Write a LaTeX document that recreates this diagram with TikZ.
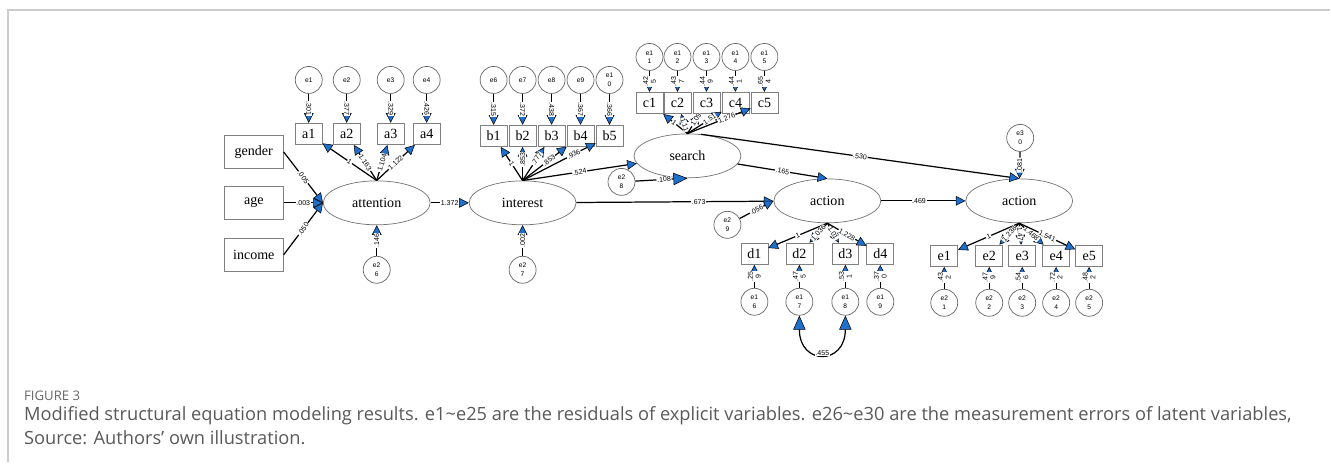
\documentclass[tikz,border=0pt]{standalone}
\usepackage{fontspec}
\setmainfont{Liberation Serif}
\setsansfont{Liberation Sans}
\newfontfamily\captionfont{Open Sans}
\usetikzlibrary{positioning,shapes.geometric,arrows.meta}
\definecolor{tipblue}{RGB}{30,112,204}

\begin{document}
\begin{tikzpicture}[
    x=0.02cm, y=-0.02cm,
    obs/.style={rectangle, draw=black!50, fill=white, minimum width=0.54cm, minimum height=0.43cm, inner sep=0pt, font=\fontsize{8}{9}\selectfont},
    demo/.style={obs, minimum width=1.18cm, minimum height=0.66cm},
    latent/.style={ellipse, draw=black!55, fill=white, minimum width=2.14cm, minimum height=0.88cm, inner sep=0pt, font=\fontsize{8}{9}\selectfont},
    err/.style={circle, draw=black!60, fill=white, minimum size=0.54cm, inner sep=0pt, align=center, font=\sffamily\fontsize{3.8}{4.8}\selectfont},
    reg/.style={-{Triangle[length=5.5pt, width=5.5pt, fill=tipblue, line width=0.3pt]}, line width=0.7pt},
    bigreg/.style={-{Triangle[length=8pt, width=7pt, fill=tipblue, line width=0.3pt]}, line width=0.7pt},
    lbl/.style={font=\sffamily\fontsize{4}{4.4}\selectfont, fill=white, inner sep=0.4pt, align=center},
    coef/.style={lbl, sloped},
  ]

    % Frame
    \draw[black!20, line width=1.2pt] (8,462) -- (8,10) -- (1331,10);

    % Background variables
    \node[demo] (gender) at (254,152) {gender};
    \node[demo] (age) at (254,203) {age};
    \node[demo] (income) at (254,255) {income};

    % Latent variables and their disturbances
    \node[latent] (attention) at (377,203) {attention};
    \node[latent] (interest) at (523,203) {interest};
    \node[latent] (search) at (688,156) {search};
    \node[latent] (action) at (828,201) {action};
    \node[latent] (actionb) at (1020,201) {action};

    \node[err] (err26) at (377,270) {e2\\6};
    \node[err] (err27) at (523,270) {e2\\7};
    \node[err] (err28) at (622,182) {e2\\8};
    \node[err] (err29) at (728,225) {e2\\9};
    \node[err] (err30) at (1021,138) {e3\\0};

    % Indicators of attention
    \foreach \i/\x/\lam/\var in {1/309/1/.301, 2/347/1.163/.377, 3/391/1.104/.329, 4/427/1.122/.426} {
      \node[obs] (a\i) at (\x,134) {a\i};
      \node[err] (err\i) at (\x,80) {e\i};
      \draw[reg] (attention.north) -- node[coef] {\lam} (a\i);
      \draw[reg] (err\i) -- node[coef] {\var} (a\i);
    }

    % Indicators of interest
    \foreach \i/\x/\k/\txt/\lam/\var/\p in {1/494/6/e6/1/.315/.5, 2/523/7/e7/.853/.372/.62, 3/552/8/e8/.777/.438/.65,
        4/581/9/e9/.853/.367/.6, 5/610/10/e1\\0/.936/.366/.7} {
      \node[obs] (b\i) at (\x,136) {b\i};
      \node[err] (err\k) at (\x,80) {\txt};
      \draw[reg] (interest.north) -- node[coef, pos=\p] {\lam} (b\i);
      \draw[reg] (err\k) -- node[coef] {\var} (b\i);
    }

    % Indicators of search
    \foreach \i/\x/\k/\lam/\var/\p in {1/650/11/1/.42\\5/.55, 2/678/12/1.11/.43\\7/.45, 3/707/13/1.09/.44\\9/.7,
        4/736/14/1.51/.44\\1/.65, 5/765/15/1.276/.65\\4/.62} {
      \node[obs] (c\i) at (\x,103) {c\i};
      \node[err] (err\k) at (\x,57) {e1\\\i};
      \draw[reg] (search.north) -- node[coef, pos=\p] {\lam} (c\i);
      \draw[reg] (err\k) -- node[lbl, rotate=90] {\var} (c\i);
    }

    % Indicators of the first action
    \foreach \i/\x/\k/\lam/\var in {1/755/16/1/.25\\9, 2/800/17/1.036/.47\\5, 3/846/18/1.01/.53\\1, 4/881/19/1.228/.37\\0} {
      \node[obs] (d\i) at (\x,254) {d\i};
      \node[err] (err\k) at (\x,302) {e1\\\the\numexpr\k-10\relax};
      \draw[reg] (action.south) -- node[coef] {\lam} (d\i);
      \draw[reg] (err\k) -- node[coef] {\var} (d\i);
    }

    % Indicators of the second action
    \foreach \i/\x/\k/\lam/\var in {1/945/21/1/.43\\2, 2/990/22/1.238/.47\\9, 3/1023/23/1.47/.54\\6,
        4/1057/24/1.468/.72\\2, 5/1090/25/1.541/.48\\2} {
      \node[obs] (e\i) at (\x,256) {e\i};
      \node[err] (err\k) at (\x,303) {e2\\\i};
      \draw[reg] (actionb.south) -- node[coef] {\lam} (e\i);
      \draw[reg] (err\k) -- node[coef] {\var} (e\i);
    }

    % Structural paths
    \draw[reg] (gender.east) -- node[coef] {.005} (attention.west);
    \draw[reg] (age) -- node[coef] {.003} (attention);
    \draw[reg] (income.east) -- node[coef] {.050} (attention.west);
    \draw[reg] (err26) -- node[coef] {.146} (attention);
    \draw[reg] (attention) -- node[coef] {1.372} (interest);
    \draw[reg] (err27) -- node[coef] {.002} (interest);
    \draw[reg] (interest.north) -- node[coef] {.524} (search);
    \draw[bigreg] (err28) -- node[coef, pos=0.55] {.108} (search.south);
    \draw[reg] (interest) -- node[coef, pos=0.62] {.673} (action);
    \draw[reg] (err29) -- node[coef] {.056} (action.west);
    \draw[reg] (search) -- node[coef] {.165} (action.north);
    \draw[reg] (search.58) -- node[coef] {.530} (actionb.north);
    \draw[reg] (action) -- node[coef, pos=0.45] {.469} (actionb);
    \draw[reg] (err30) -- node[coef] {.081} (actionb);

    % Correlated residuals
    \draw[{Triangle[length=8pt, width=7pt, fill=tipblue, line width=0.3pt]}-{Triangle[length=8pt, width=7pt, fill=tipblue, line width=0.3pt]}, line width=0.7pt]
      (err17.south) .. controls +(0,50) and +(0,50) .. (err18.south) node[coef, pos=0.5] {.455};

    % Caption
    \node[anchor=west, text=black!60, font=\captionfont\fontsize{7.5}{8}\selectfont] (figlabel) at (18,396) {FIGURE 3};
    \node[anchor=west, text=black!65, font=\captionfont\fontsize{10.4}{11}\selectfont] (caption) at (18,416)
      {Modified structural equation modeling results. e1\textasciitilde e25 are the residuals of explicit variables. e26\textasciitilde e30 are the measurement errors of latent variables,};
    \node[anchor=west, text=black!65, font=\captionfont\fontsize{10.4}{11}\selectfont] (source) at (18,438)
      {Source: Authors’ own illustration.};

    \useasboundingbox (0,0) rectangle (1331,468);
  \end{tikzpicture}
\end{document}
